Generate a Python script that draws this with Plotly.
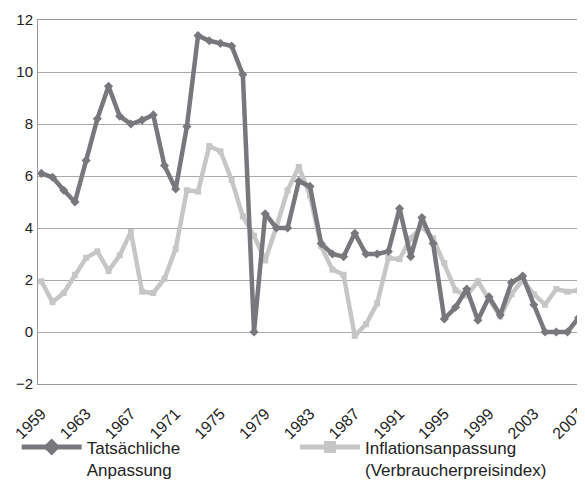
import plotly.graph_objects as go

years = list(range(1959, 2008))
tatsaechlich = [6.1, 5.95, 5.45, 5.0, 6.6, 8.2, 9.45, 8.3, 8.0, 8.15, 8.35, 6.4, 5.5,
                7.9, 11.4, 11.2, 11.1, 11.0, 9.9, 0.0, 4.55, 4.0, 4.0, 5.8, 5.6, 3.4,
                3.0, 2.9, 3.8, 3.0, 3.0, 3.1, 4.75, 2.9, 4.4, 3.4, 0.5, 0.95, 1.65,
                0.45, 1.35, 0.65, 1.9, 2.15, 1.05, 0.0, 0.0, 0.0, 0.55]
inflation = [1.95, 1.15, 1.5, 2.2, 2.85, 3.1, 2.35, 2.95, 3.85, 1.55, 1.5, 2.05, 3.2,
             5.45, 5.4, 7.15, 6.95, 5.85, 4.45, 3.7, 2.75, 4.05, 5.45, 6.35, 5.25, 3.3,
             2.4, 2.2, -0.15, 0.3, 1.1, 2.85, 2.8, 3.6, 4.05, 3.6, 2.65, 1.6, 1.4,
             1.95, 1.25, 0.6, 1.45, 2.0, 1.45, 1.05, 1.65, 1.55, 1.6]
x_ticks = list(range(1959, 2008, 4))
y_ticks = [-2, 0, 2, 4, 6, 8, 10, 12]
name_a = "Tatsächliche<br>Anpassung"
name_b = "Inflationsanpassung<br>(Verbraucherpreisindex)"

DARK = "#78777c"
LIGHT = "#c6c6c6"

fig = go.Figure()
fig.add_trace(go.Scatter(x=years, y=inflation, mode="lines+markers", showlegend=False,
                         line=dict(color=LIGHT, width=4.5),
                         marker=dict(symbol="square", size=6, color=LIGHT)))
fig.add_trace(go.Scatter(x=years, y=tatsaechlich, mode="lines+markers", showlegend=False,
                         line=dict(color=DARK, width=4.5),
                         marker=dict(symbol="diamond", size=7, color=DARK)))
# legend entries
fig.add_trace(go.Scatter(x=[None], y=[None], mode="lines+markers", name=name_a,
                         legend="legend",
                         line=dict(color=DARK, width=5),
                         marker=dict(symbol="diamond", size=13, color=DARK)))
fig.add_trace(go.Scatter(x=[None], y=[None], mode="lines+markers", name=name_b,
                         legend="legend2",
                         line=dict(color=LIGHT, width=5),
                         marker=dict(symbol="square", size=12, color=LIGHT)))

# page has an 8px body margin; figure is sized to fit the 585x495 window
W, H = 577, 487
L, R, T, B = 30.3, 3.3, 11.7, 110.5
PW, PH = W - L - R, H - T - B

leg_common = dict(orientation="h", yanchor="top", xanchor="left", itemwidth=60,
                  valign="top", font=dict(size=17, color="#222"),
                  bgcolor="rgba(0,0,0,0)")

fig.update_layout(
    width=W, height=H,
    margin=dict(l=L, r=R, t=T, b=B, autoexpand=False),
    paper_bgcolor="white", plot_bgcolor="white",
    font=dict(family="Liberation Sans, Arial, sans-serif", size=15, color="#222"),
    legend=dict(x=(9 - L) / PW, y=-(422 - (H - B)) / PH, **leg_common),
    legend2=dict(x=(287 - L) / PW, y=-(422 - (H - B)) / PH, **leg_common),
    xaxis=dict(range=[1958.7, 2007.3], tickvals=x_ticks, ticktext=[str(v) for v in x_ticks],
               tickangle=-45, showgrid=False, zeroline=False, showline=True,
               linecolor="#999", linewidth=1, mirror=True,
               ticks="outside", ticklen=13, tickcolor="rgba(0,0,0,0)",
               ticklabeloverflow="allow", automargin=False,
               tickfont=dict(size=16)),
    yaxis=dict(range=[-2, 12], tickvals=y_ticks, showgrid=True, gridcolor="#aaa",
               gridwidth=1, zeroline=False, showline=True, linecolor="#999",
               linewidth=1, mirror=True, ticks="outside", ticklen=1,
               tickcolor="rgba(0,0,0,0)",
               automargin=False, tickfont=dict(size=15)),
)

fig.write_html("out.html")
